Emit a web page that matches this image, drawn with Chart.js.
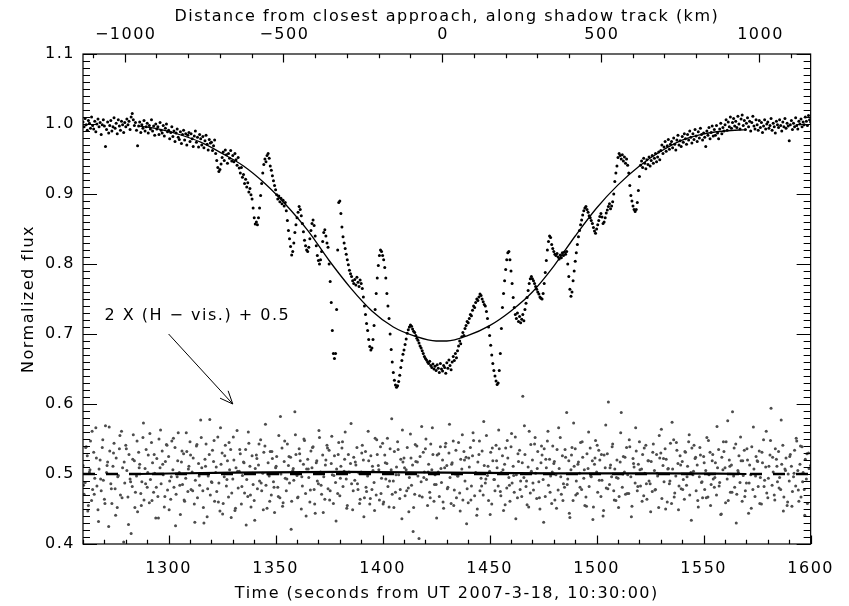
<!DOCTYPE html>
<html>
<head>
<meta charset="utf-8">
<script src="https://cdn.jsdelivr.net/npm/chart.js@4"></script>
<style>
  html, body { margin: 0; padding: 0; background: #fff; }
  #wrap { width: 849px; height: 606px; }
</style>
</head>
<body>
<div id="wrap"><canvas id="chart" width="849" height="606"></canvas></div>
<script>
// time series sampled every 0.5 s from t = 1260 s
var sampleStart = 1260;
var sampleStep = 0.5;

// normalized flux (one row = 5 s)
var flux = [
  1.003,0.996,1.008,0.999,0.991,1.005,1.001,0.994,1.010,0.998, // 1260
  0.993,1.004,0.989,1.000,1.007,0.996,1.002,0.985,0.999,1.006, // 1265
  0.997,0.968,0.992,1.003,0.987,0.998,1.005,0.990,0.996,1.009, // 1270
  0.994,1.001,0.986,1.006,0.997,0.991,1.004,0.999,0.988,1.002, // 1275
  0.996,1.007,0.999,1.004,0.992,1.010,1.015,1.006,0.998,1.002, // 1280
  0.991,0.969,0.997,1.003,0.988,0.999,0.994,1.005,0.990,0.996, // 1285
  1.001,0.987,0.998,0.993,1.006,0.990,0.997,0.984,1.000,0.993, // 1290
  0.996,0.985,1.002,0.991,0.987,0.998,0.983,0.994,1.000,0.989, // 1295
  0.991,0.979,0.988,0.996,0.982,0.990,0.975,0.987,0.993,0.981, // 1300
  0.978,0.989,0.972,0.985,0.991,0.977,0.986,0.970,0.984,0.988, // 1305
  0.975,0.986,0.979,0.968,0.983,0.990,0.974,0.981,0.967,0.985, // 1310
  0.979,0.970,0.982,0.966,0.976,0.984,0.971,0.963,0.978,0.973, // 1315
  0.974,0.962,0.969,0.977,0.958,0.948,0.938,0.932,0.935,0.943, // 1320
  0.952,0.960,0.948,0.963,0.956,0.944,0.958,0.951,0.962,0.947, // 1325
  0.955,0.946,0.958,0.949,0.941,0.952,0.937,0.930,0.938,0.924, // 1330
  0.928,0.915,0.921,0.910,0.916,0.903,0.908,0.899,0.893,0.880, // 1335
  0.866,0.857,0.860,0.856,0.866,0.880,0.898,0.915,0.930,0.942, // 1340
  0.950,0.946,0.955,0.958,0.951,0.940,0.934,0.926,0.919,0.912, // 1345
  0.906,0.899,0.893,0.897,0.889,0.894,0.886,0.891,0.883,0.888, // 1350
  0.876,0.862,0.848,0.836,0.825,0.813,0.818,0.830,0.845,0.856, // 1355
  0.866,0.874,0.882,0.878,0.869,0.858,0.846,0.834,0.826,0.820, // 1360
  0.818,0.824,0.836,0.848,0.858,0.863,0.855,0.840,0.826,0.812, // 1365
  0.805,0.800,0.806,0.818,0.832,0.845,0.849,0.840,0.830,0.824, // 1370
  0.800,0.775,0.745,0.705,0.672,0.665,0.672,0.735,0.820,0.888, // 1375
  0.890,0.872,0.853,0.839,0.830,0.822,0.814,0.806,0.799,0.791, // 1380
  0.786,0.782,0.776,0.772,0.778,0.770,0.781,0.774,0.768,0.777, // 1385
  0.772,0.765,0.753,0.740,0.728,0.715,0.705,0.692,0.682,0.677, // 1390
  0.680,0.692,0.712,0.735,0.758,0.780,0.798,0.812,0.820,0.818, // 1395
  0.812,0.806,0.795,0.780,0.758,0.740,0.722,0.700,0.678,0.660, // 1400
  0.645,0.634,0.627,0.624,0.626,0.632,0.641,0.652,0.662,0.671, // 1405
  0.677,0.685,0.693,0.701,0.706,0.710,0.713,0.711,0.707,0.704, // 1410
  0.702,0.698,0.694,0.691,0.687,0.683,0.680,0.676,0.672,0.668, // 1415
  0.665,0.663,0.660,0.658,0.661,0.655,0.652,0.657,0.650,0.654, // 1420
  0.648,0.656,0.651,0.645,0.658,0.650,0.647,0.655,0.652,0.644, // 1425
  0.659,0.651,0.663,0.655,0.649,0.660,0.668,0.662,0.672,0.666, // 1430
  0.676,0.683,0.690,0.686,0.696,0.702,0.698,0.708,0.712,0.718, // 1435
  0.716,0.722,0.728,0.726,0.734,0.740,0.738,0.745,0.750,0.748, // 1440
  0.753,0.757,0.755,0.750,0.746,0.742,0.740,0.732,0.722,0.710, // 1445
  0.698,0.684,0.670,0.658,0.648,0.640,0.633,0.628,0.630,0.648, // 1450
  0.672,0.708,0.738,0.758,0.776,0.792,0.806,0.816,0.818,0.806, // 1455
  0.790,0.772,0.752,0.738,0.728,0.722,0.730,0.718,0.725,0.716, // 1460
  0.721,0.728,0.719,0.735,0.744,0.752,0.762,0.772,0.779,0.782, // 1465
  0.779,0.776,0.772,0.768,0.764,0.760,0.757,0.753,0.751,0.750, // 1470
  0.758,0.772,0.788,0.805,0.820,0.832,0.840,0.838,0.828,0.822, // 1475
  0.818,0.814,0.812,0.815,0.810,0.807,0.813,0.809,0.816,0.812, // 1480
  0.817,0.814,0.818,0.800,0.782,0.764,0.754,0.760,0.776,0.790, // 1485
  0.804,0.816,0.828,0.839,0.848,0.856,0.863,0.870,0.876,0.880, // 1490
  0.882,0.878,0.874,0.869,0.866,0.862,0.858,0.852,0.847,0.844, // 1495
  0.850,0.856,0.862,0.868,0.872,0.867,0.858,0.860,0.866,0.873, // 1500
  0.877,0.882,0.886,0.879,0.883,0.889,0.900,0.918,0.930,0.940, // 1505
  0.952,0.958,0.955,0.950,0.956,0.947,0.953,0.944,0.950,0.941, // 1510
  0.930,0.912,0.898,0.890,0.883,0.878,0.875,0.878,0.888,0.905, // 1515
  0.925,0.941,0.947,0.938,0.951,0.944,0.936,0.949,0.942,0.953, // 1520
  0.940,0.948,0.955,0.944,0.951,0.958,0.946,0.953,0.960,0.949, // 1525
  0.962,0.970,0.958,0.967,0.975,0.961,0.969,0.978,0.964,0.971, // 1530
  0.975,0.966,0.980,0.971,0.963,0.977,0.984,0.970,0.976,0.968, // 1535
  0.982,0.974,0.986,0.979,0.971,0.985,0.977,0.990,0.981,0.973, // 1540
  0.986,0.978,0.992,0.983,0.975,0.989,0.980,0.994,0.985,0.977, // 1545
  0.987,0.981,0.968,0.990,0.984,0.995,0.979,0.988,0.997,0.983, // 1550
  0.992,0.984,0.998,0.987,0.979,0.993,1.001,0.986,0.995,0.990, // 1555
  0.999,1.006,0.991,1.003,0.996,1.010,0.994,1.002,1.008,0.997, // 1560
  1.004,0.995,1.011,1.000,0.993,1.007,1.013,0.998,1.005,0.992, // 1565
  1.001,1.009,0.996,1.004,0.990,1.002,1.011,0.997,0.993,1.006, // 1570
  0.999,0.991,1.005,0.995,1.002,0.988,0.997,1.006,0.993,1.000, // 1575
  1.003,0.994,0.998,1.008,0.991,1.001,0.996,0.987,1.004,0.999, // 1580
  0.995,1.006,0.998,0.990,1.003,0.996,1.008,0.994,1.001,0.997, // 1585
  0.976,0.999,1.005,0.992,1.001,0.996,1.009,0.998,0.993,1.004, // 1590
  1.000,1.007,0.996,1.003,0.999,1.010,1.004,0.998,1.012,1.006, // 1595
  1.003                                                        // 1600
];

// 2 x (H - vis.) + 0.5, in thousandths, same sampling as flux
var diffMilli = [
  512,471,488,539,526,455,503,547,462,478, 531,494,566,483,449,507,520,476,538,491,
  464,569,502,517,425,533,486,458,511,544, 479,523,452,498,536,470,561,509,403,487,
  541,505,467,528,493,415,482,556,519,474, 497,446,531,514,472,489,552,463,508,535,
  481,527,459,492,545,516,474,501,437,522, 468,550,509,486,533,499,453,518,542,477,
  525,490,464,547,506,481,538,471,496,559, 502,442,517,485,529,461,494,532,475,511,
  546,478,503,523,457,491,540,466,515,484, 577,509,476,430,521,543,439,497,528,470,
  489,534,518,461,502,475,553,487,447,514, 530,458,496,541,483,519,467,506,535,473,
  493,520,448,509,562,480,504,529,457,498, 517,473,535,492,468,544,511,453,526,485,
  462,508,527,479,513,490,549,476,501,531, 540,484,451,516,497,532,470,522,489,445,
  509,525,481,555,466,500,537,459,518,494, 476,543,512,487,524,461,505,491,589,528,
  498,467,536,519,450,483,514,548,472,507, 521,495,460,533,509,539,478,444,516,490,
  486,552,503,471,527,496,464,520,541,479, 534,476,515,499,458,526,488,507,472,545,
  469,511,537,482,504,560,493,455,528,502, 515,486,449,524,491,513,538,478,501,464,
  503,541,520,466,532,475,497,519,457,526, 478,505,488,551,470,528,512,463,539,494,
  544,460,527,493,515,482,453,536,506,471, 490,532,474,510,546,499,465,521,436,517,
  523,469,506,538,480,495,557,484,513,452, 471,518,540,497,408,525,489,467,531,503,
  536,492,455,514,474,543,506,528,461,499, 485,527,503,468,539,488,520,451,509,544,
  512,481,530,495,458,516,547,477,500,466, 497,545,473,521,507,463,532,490,524,479,
  459,510,538,483,526,548,469,502,441,517, 528,476,494,533,470,512,487,555,498,462,
  504,531,457,519,492,476,541,509,483,536, 475,502,526,448,514,537,480,523,495,461,
  539,487,511,474,553,499,466,518,534,490, 468,611,495,528,482,456,510,561,473,504,
  520,477,543,501,465,532,489,450,516,527, 492,536,468,509,547,484,521,497,458,540,
  515,463,499,535,477,508,552,471,526,486, 481,524,588,493,519,438,506,538,462,511,
  536,490,472,517,501,545,478,524,494,455, 467,529,508,482,537,496,519,453,514,548,
  503,474,534,520,468,491,440,527,509,480, 529,603,485,513,496,543,476,507,462,520,
  494,468,517,588,481,525,503,471,538,499, 472,539,496,454,522,510,487,533,476,514,
  546,483,507,528,469,501,541,464,519,490, 486,518,475,543,505,478,528,497,452,523,
  530,465,512,489,536,521,460,508,486,544, 458,507,549,473,497,534,515,483,526,479,
  518,492,464,531,484,511,546,470,502,537, 499,541,522,476,513,453,496,527,488,466,
  525,478,505,552,467,499,531,485,519,493, 481,516,470,509,535,488,442,524,506,532,
  509,546,493,462,520,474,513,589,497,481, 543,471,505,526,488,519,461,498,534,476,
  487,520,444,513,499,539,478,507,468,525, 519,482,533,495,457,516,549,491,510,473,
  466,511,527,594,484,503,470,536,521,489, 532,495,478,514,541,467,507,523,455,500,
  490,528,511,475,496,534,483,547,505,461, 514,467,539,502,478,521,493,458,530,508,
  512
];

// extra difference samples taken between the ones above, one per second from t = 1260.25 s
var extraStart = 1260.25;
var extraStep = 1;
var diffMilliB = [
  484,538,447,506,561,471,523,432,493,549, 458,512,567,479,530,441,496,555,466,517,
  536,428,489,521,452,547,509,455,573,486, 502,558,462,528,481,437,563,514,468,541,
  449,496,551,426,519,484,533,463,559,507, 527,476,431,542,497,552,452,511,479,578,
  488,548,510,460,566,443,526,492,545,438, 553,451,504,535,482,516,427,560,470,501,
  434,522,543,487,449,571,500,461,532,481, 511,468,582,454,547,493,525,421,508,556,
  466,529,496,550,440,507,477,538,457,519, 562,484,445,513,537,463,554,498,433,528,
  494,546,521,451,503,572,476,517,486,458, 530,439,481,561,465,511,448,549,506,472,
  457,516,551,490,579,452,499,535,478,563, 509,476,446,523,418,542,517,469,568,495,
  550,503,466,566,485,437,529,508,460,539, 479,571,514,455,534,497,447,556,520,429,
  523,463,559,501,450,547,483,575,493,511, 442,537,492,519,563,469,506,456,548,484,
  558,498,436,529,478,516,569,490,453,542, 487,552,508,466,540,431,521,561,474,503,
  518,451,566,496,462,535,485,444,527,573, 470,514,481,546,506,454,560,497,435,523,
  541,491,528,448,570,479,509,539,463,495, 452,559,500,524,472,549,439,515,566,482,
  506,461,537,486,519,446,531,477,501,555, 564,522,450,507,490,574,467,545,449,513,
  478,532,496,556,434,504,524,462,538,489, 516,466,548,455,528,495,568,483,443,546,
  459,576,511,474,537,430,502,553,519,468, 536,487,451,567,497,518,458,531,482,561,
  494,548,524,463,511,480,577,447,505,460, 525,454,501,551,477,540,489,441,529,508
];

// model light curve (solid line through the dip)
var fitTimes = [1286,1295,1305,1315,1325,1335,1345,1355,1365,1375,1385,1395,1405,1415,1425,
                1430,1440,1450,1460,1470,1480,1490,1500,1510,1520,1530,1540,1550,1560,1570];
var fitFlux  = [0.997,0.993,0.985,0.974,0.958,0.940,0.915,0.884,0.848,0.805,0.766,0.733,0.710,0.697,0.690,
                0.690,0.698,0.712,0.733,0.760,0.797,0.840,0.880,0.913,0.940,0.961,0.977,0.986,0.990,0.992];

// smoothed difference curve
var diffFitTimes = [1286,1330,1380,1430,1480,1530,1570];
var diffFitFlux  = [0.500,0.502,0.503,0.502,0.501,0.501,0.500];

// reference level for the difference curve
var refTimes = [1260,1600];
var refFlux  = [0.5,0.5];

// top axis: distance along shadow track
var closestApproach = 1427.8; // s
var shadowSpeed = 6.743;      // km/s
var distanceLabels = [-1000,-500,0,500,1000];

var xMin = 1260, xMax = 1600;
var yMin = 0.4, yMax = 1.1;

var labelFont = { family: 'DejaVu Sans', size: 16, weight: 'normal' };
var spacing = '1.5px';

function pairs(xs, ys) {
    return xs.map(function (x, i) { return { x: x, y: ys[i] }; });
}

function cssFont(f) {
    return f.weight + ' ' + f.size + 'px "' + f.family + '"';
}

var fluxPoints = flux.map(function (v, i) { return { x: sampleStart + i * sampleStep, y: v }; });
var diffPoints = diffMilli.map(function (m, i) { return { x: sampleStart + i * sampleStep, y: m / 1000 }; })
    .concat(diffMilliB.map(function (m, i) { return { x: extraStart + i * extraStep, y: m / 1000 }; }));

var letterSpacing = {
    id: 'letterSpacing',
    beforeUpdate: function (chart) { chart.ctx.letterSpacing = spacing; },
    beforeDraw: function (chart) { chart.ctx.letterSpacing = spacing; }
};

// IDL style frame: ticks point into the plot on all four sides
var frameTicks = {
    id: 'frameTicks',
    afterDatasetsDraw: function (chart) {
        var ctx = chart.ctx;
        var a = chart.chartArea;
        var sx = chart.scales.x, sx2 = chart.scales.x2, sy = chart.scales.y;
        var i, p, len;

        ctx.save();
        ctx.strokeStyle = '#000';
        ctx.lineWidth = 1.2;
        ctx.strokeRect(a.left, a.top, a.right - a.left, a.bottom - a.top);

        ctx.beginPath();
        for (i = xMin; i <= xMax; i += 10) {
            p = Math.round(sx.getPixelForValue(i)) + 0.5;
            len = i % 50 === 0 ? 8.5 : 4.2;
            ctx.moveTo(p, a.bottom);
            ctx.lineTo(p, a.bottom - len);
        }
        for (i = -1100; i <= 1100; i += 100) {
            p = Math.round(sx2.getPixelForValue(i)) + 0.5;
            len = i % 500 === 0 ? 8.5 : 4.2;
            ctx.moveTo(p, a.top);
            ctx.lineTo(p, a.top + len);
        }
        for (i = 40; i <= 110; i++) {
            p = Math.round(sy.getPixelForValue(i / 100)) + 0.5;
            len = i % 10 === 0 ? 14 : 7;
            ctx.moveTo(a.left, p);
            ctx.lineTo(a.left + len, p);
            ctx.moveTo(a.right, p);
            ctx.lineTo(a.right - len, p);
        }
        ctx.stroke();

        ctx.fillStyle = '#000';
        ctx.font = cssFont(labelFont);
        ctx.letterSpacing = spacing;

        // top axis tick labels
        ctx.textAlign = 'center';
        ctx.textBaseline = 'middle';
        distanceLabels.forEach(function (k) {
            ctx.fillText(String(k).replace('-', '\u2212'), sx2.getPixelForValue(k) + 1, a.top - 19);
        });

        // label and arrow pointing at the difference curve
        ctx.textAlign = 'left';
        ctx.fillText('2 X (H \u2212 vis.) + 0.5', sx.getPixelForValue(1270), sy.getPixelForValue(0.726));

        var x0 = sx.getPixelForValue(1300), y0 = sy.getPixelForValue(0.70);
        var x1 = sx.getPixelForValue(1330), y1 = sy.getPixelForValue(0.60);
        var ang = Math.atan2(y1 - y0, x1 - x0);
        ctx.lineWidth = 1;
        ctx.beginPath();
        ctx.moveTo(x0, y0);
        ctx.lineTo(x1, y1);
        ctx.moveTo(x1 - 14 * Math.cos(ang - 0.4), y1 - 14 * Math.sin(ang - 0.4));
        ctx.lineTo(x1, y1);
        ctx.lineTo(x1 - 14 * Math.cos(ang + 0.4), y1 - 14 * Math.sin(ang + 0.4));
        ctx.stroke();
        ctx.restore();
    }
};

var ctx = document.getElementById('chart').getContext('2d');

new Chart(ctx, {
    type: 'scatter',
    data: {
        datasets: [
            {
                label: 'model',
                data: pairs(fitTimes, fitFlux),
                showLine: true,
                borderColor: '#000',
                borderWidth: 1.3,
                pointRadius: 0,
                cubicInterpolationMode: 'monotone',
                order: 1
            },
            {
                label: 'flux',
                data: fluxPoints,
                backgroundColor: '#000',
                borderWidth: 0,
                pointRadius: 1.5,
                order: 2
            },
            {
                label: 'difference fit',
                data: pairs(diffFitTimes, diffFitFlux),
                showLine: true,
                borderColor: '#000',
                borderWidth: 2.2,
                pointRadius: 0,
                cubicInterpolationMode: 'monotone',
                order: 3
            },
            {
                label: 'reference',
                data: pairs(refTimes, refFlux),
                showLine: true,
                borderColor: '#000',
                borderWidth: 2.5,
                borderDash: [12, 11],
                pointRadius: 0,
                order: 4
            },
            {
                label: '2 X (H - vis.) + 0.5',
                data: diffPoints,
                backgroundColor: '#4d4d4d',
                borderWidth: 0,
                pointRadius: 1.5,
                order: 5
            }
        ]
    },
    options: {
        responsive: false,
        animation: false,
        events: [],
        layout: { padding: { top: 0, left: 0, bottom: 0, right: 27 } },
        plugins: {
            legend: { display: false },
            tooltip: { enabled: false }
        },
        scales: {
            x: {
                type: 'linear',
                position: 'bottom',
                min: xMin,
                max: xMax,
                grid: { display: false, drawTicks: false },
                border: { display: false },
                ticks: {
                    stepSize: 50,
                    includeBounds: false,
                    autoSkip: false,
                    maxRotation: 0,
                    padding: 15,
                    color: '#000',
                    font: labelFont,
                    callback: function (v) { return v % 50 === 0 ? String(v) : ''; }
                },
                title: {
                    display: true,
                    text: 'Time (seconds from UT 2007-3-18, 10:30:00)',
                    color: '#000',
                    font: labelFont,
                    padding: { top: 0, bottom: 3 }
                },
                afterFit: function (scale) { scale.height = 62; }
            },
            x2: {
                type: 'linear',
                position: 'top',
                min: (xMin - closestApproach) * shadowSpeed,
                max: (xMax - closestApproach) * shadowSpeed,
                grid: { display: false, drawTicks: false },
                border: { display: false },
                ticks: { display: false },
                title: {
                    display: true,
                    text: 'Distance from closest approach, along shadow track (km)',
                    color: '#000',
                    font: labelFont,
                    padding: { top: 7, bottom: 0 }
                },
                afterFit: function (scale) { scale.height = 54; }
            },
            y: {
                type: 'linear',
                position: 'left',
                min: yMin,
                max: yMax,
                grid: { display: false, drawTicks: false },
                border: { display: false },
                ticks: {
                    stepSize: 0.1,
                    includeBounds: false,
                    padding: 8,
                    color: '#000',
                    font: labelFont,
                    callback: function (v) { return v.toFixed(1); }
                },
                title: {
                    display: true,
                    text: 'Normalized flux',
                    color: '#000',
                    font: labelFont,
                    padding: { top: 19, bottom: 0 }
                },
                afterFit: function (scale) { scale.width = 83; }
            }
        }
    },
    plugins: [letterSpacing, frameTicks]
});
</script>
</body>
</html>
